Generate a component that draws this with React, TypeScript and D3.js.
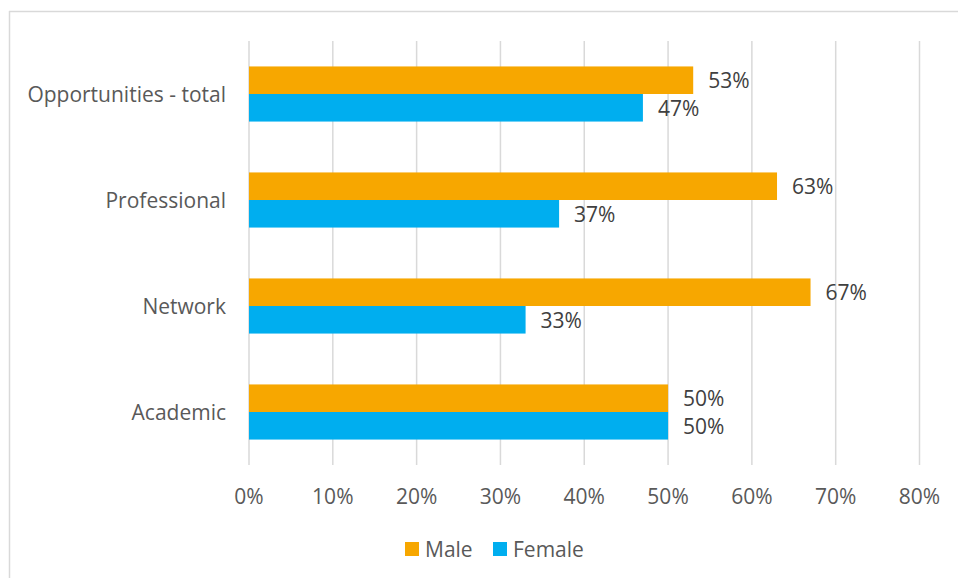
import React from "react";
import * as d3 from "d3";

const categories = ["Opportunities - total", "Professional", "Network", "Academic"];
const maleValues = [53, 63, 67, 50];
const femaleValues = [47, 37, 33, 50];
const xTicks = [0, 10, 20, 30, 40, 50, 60, 70, 80];
const seriesNames = ["Male", "Female"];

const W = 958;
const H = 578;
const ORANGE = "#F7A700";
const BLUE = "#00AEEF";
const GRID = "#d9d9d9";
const AXIS_TEXT = "#595959";
const LABEL_TEXT = "#404040";
const FONT = "'Open Sans', sans-serif";
const FS = 21;

export default function App() {
  const x = d3.scaleLinear().domain([0, 80]).range([249, 919.5]);
  const y = d3
    .scaleBand<string>()
    .domain(categories)
    .range([41, 465])
    .paddingInner(0.48)
    .paddingOuter(0.24);
  const inner = d3.scaleBand<string>().domain(seriesNames).range([0, y.bandwidth()]);
  const series = [
    { name: "Male", values: maleValues, color: ORANGE },
    { name: "Female", values: femaleValues, color: BLUE },
  ];

  return (
    <svg
      width={W}
      height={H}
      style={{ position: "absolute", left: 0, top: 0, background: "#fff" }}
      fontFamily={FONT}
    >
      <rect x={0} y={0} width={W} height={H} fill="#fff" />
      {/* outer border */}
      <line x1={9.5} y1={11} x2={9.5} y2={H} stroke={GRID} strokeWidth={1.5} />
      <line x1={9} y1={11.5} x2={W} y2={11.5} stroke={GRID} strokeWidth={1.5} />

      {/* gridlines */}
      {xTicks.map((t) => (
        <line
          key={t}
          x1={x(t)}
          x2={x(t)}
          y1={41}
          y2={465}
          stroke={GRID}
          strokeWidth={1.5}
        />
      ))}

      {/* bars */}
      {series.map((s) =>
        categories.map((c, i) => (
          <rect
            key={s.name + c}
            x={x(0)}
            y={(y(c) as number) + (inner(s.name) as number)}
            width={x(s.values[i]) - x(0)}
            height={inner.bandwidth()}
            fill={s.color}
          />
        ))
      )}

      {/* data labels */}
      {series.map((s) =>
        categories.map((c, i) => (
          <text
            key={"l" + s.name + c}
            x={x(s.values[i]) + 15}
            y={(y(c) as number) + (inner(s.name) as number) + inner.bandwidth() / 2}
            dominantBaseline="central"
            fontSize={FS}
            fill={LABEL_TEXT}
          >
            {s.values[i]}%
          </text>
        ))
      )}

      {/* category labels */}
      {categories.map((c) => (
        <text
          key={"c" + c}
          x={226}
          y={(y(c) as number) + y.bandwidth() / 2}
          textAnchor="end"
          dominantBaseline="central"
          fontSize={FS}
          fill={AXIS_TEXT}
        >
          {c}
        </text>
      ))}

      {/* x tick labels */}
      {xTicks.map((t) => (
        <text
          key={"t" + t}
          x={x(t)}
          y={496}
          textAnchor="middle"
          dominantBaseline="central"
          fontSize={FS}
          fill={AXIS_TEXT}
        >
          {t}%
        </text>
      ))}

      {/* legend */}
      <rect x={405} y={542} width={14} height={14} fill={ORANGE} />
      <text x={425} y={549} dominantBaseline="central" fontSize={FS} fill={AXIS_TEXT}>
        Male
      </text>
      <rect x={493} y={542} width={14} height={14} fill={BLUE} />
      <text x={513} y={549} dominantBaseline="central" fontSize={FS} fill={AXIS_TEXT}>
        Female
      </text>
    </svg>
  );
}
